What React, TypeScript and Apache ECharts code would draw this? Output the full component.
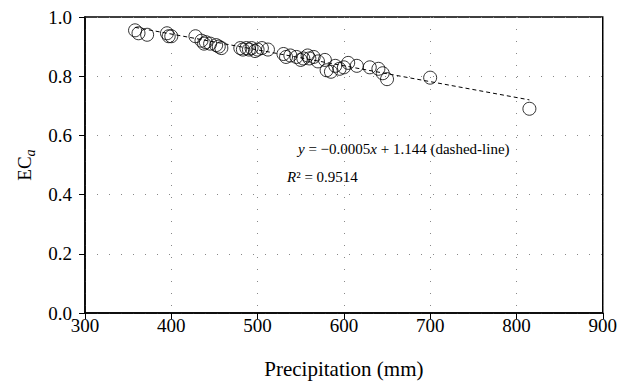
import React, { useEffect, useRef } from "react";
import * as echarts from "echarts";

const precipitation = [358, 362, 372, 395, 397, 400, 428, 435, 438, 440, 445, 452, 455, 458, 480, 483, 487, 490, 493, 497, 500, 505, 512, 530, 533, 538, 545, 550, 553, 558, 560, 565, 570, 578, 580, 585, 590, 595, 600, 605, 615, 630, 640, 645, 650, 700, 815];
const eca = [0.955, 0.945, 0.94, 0.945, 0.935, 0.935, 0.935, 0.92, 0.91, 0.915, 0.91, 0.905, 0.9, 0.895, 0.895, 0.89, 0.895, 0.89, 0.895, 0.885, 0.89, 0.895, 0.89, 0.875, 0.865, 0.87, 0.865, 0.855, 0.86, 0.87, 0.86, 0.865, 0.85, 0.855, 0.82, 0.815, 0.835, 0.825, 0.83, 0.845, 0.835, 0.83, 0.825, 0.81, 0.79, 0.795, 0.69];
const fitX = [358, 815];
const fitY = [0.965, 0.72];
const xTicks = [300, 900, 100];
const yTicks = [0, 1, 0.2];

const FONT = "Liberation Serif";

export default function App() {
  const ref = useRef<HTMLDivElement>(null);
  useEffect(() => {
    const chart = echarts.init(ref.current!, null, { renderer: "svg" });
    const points = precipitation.map((p, i) => [p, eca[i]]);
    const fit = fitX.map((x, i) => [x, fitY[i]]);
    chart.setOption({
      animation: false,
      backgroundColor: "#fff",
      textStyle: { fontFamily: FONT, color: "#000" },
      grid: {
        left: 85,
        right: 13,
        top: 17,
        bottom: 72,
        show: true,
        borderColor: "#000",
        borderWidth: 1.5,
      },
      xAxis: {
        type: "value",
        min: xTicks[0],
        max: xTicks[1],
        interval: xTicks[2],
        name: "Precipitation (mm)",
        nameLocation: "middle",
        nameGap: 45,
        nameTextStyle: { fontFamily: FONT, fontSize: 21, color: "#000" },
        axisLine: { show: true, lineStyle: { color: "#000", width: 1.5 } },
        axisTick: { show: true, inside: false, length: 6, lineStyle: { color: "#000" } },
        axisLabel: { fontFamily: FONT, fontSize: 19, color: "#000", margin: 3 },
        splitLine: { show: true, lineStyle: { color: "#888", type: [1, 11], width: 1 } },
      },
      yAxis: {
        type: "value",
        min: yTicks[0],
        max: yTicks[1],
        interval: yTicks[2],
        name: "{n|EC}{s|a}",
        nameLocation: "middle",
        nameGap: 47,
        nameRotate: 90,
        nameTextStyle: {
          fontFamily: FONT,
          color: "#000",
          rich: {
            n: { fontFamily: FONT, fontSize: 19, color: "#000", lineHeight: 26, verticalAlign: "middle" },
            s: { fontFamily: FONT, fontSize: 14, fontStyle: "italic", color: "#000", lineHeight: 26, verticalAlign: "bottom" },
          },
        },
        axisLine: { show: true, lineStyle: { color: "#000", width: 1.5 } },
        axisTick: { show: true, inside: false, length: 6, lineStyle: { color: "#000" } },
        axisLabel: {
          fontFamily: FONT,
          fontSize: 19,
          color: "#000",
          margin: 13,
          formatter: (v: number) => v.toFixed(1),
        },
        splitLine: { show: true, lineStyle: { color: "#888", type: [1, 11], width: 1 } },
      },
      graphic: [
        {
          type: "text",
          left: 298,
          top: 141,
          style: {
            text: "{i|y} = −0.0005{i|x} + 1.144 (dashed-line)",
            fontFamily: FONT,
            fontSize: 15,
            fill: "#000",
            rich: {
              i: { fontFamily: FONT, fontSize: 15, fontStyle: "italic", fill: "#000" },
            },
          },
        },
        {
          type: "text",
          left: 287,
          top: 169,
          style: {
            text: "{i|R}² = 0.9514",
            fontFamily: FONT,
            fontSize: 15,
            fill: "#000",
            rich: {
              i: { fontFamily: FONT, fontSize: 15, fontStyle: "italic", fill: "#000" },
            },
          },
        },
      ],
      series: [
        {
          type: "line",
          data: fit,
          symbol: "none",
          lineStyle: { color: "#000", width: 1, type: [4, 3] },
          z: 1,
        },
        {
          type: "scatter",
          data: points,
          symbol: "circle",
          symbolSize: 13,
          itemStyle: { color: "rgba(0,0,0,0)", borderColor: "#000", borderWidth: 1 },
          z: 2,
        },
      ],
    });
    return () => chart.dispose();
  }, []);
  return <div ref={ref} style={{ width: 620, height: 385, position: "absolute", left: 0, top: 0 }} />;
}
